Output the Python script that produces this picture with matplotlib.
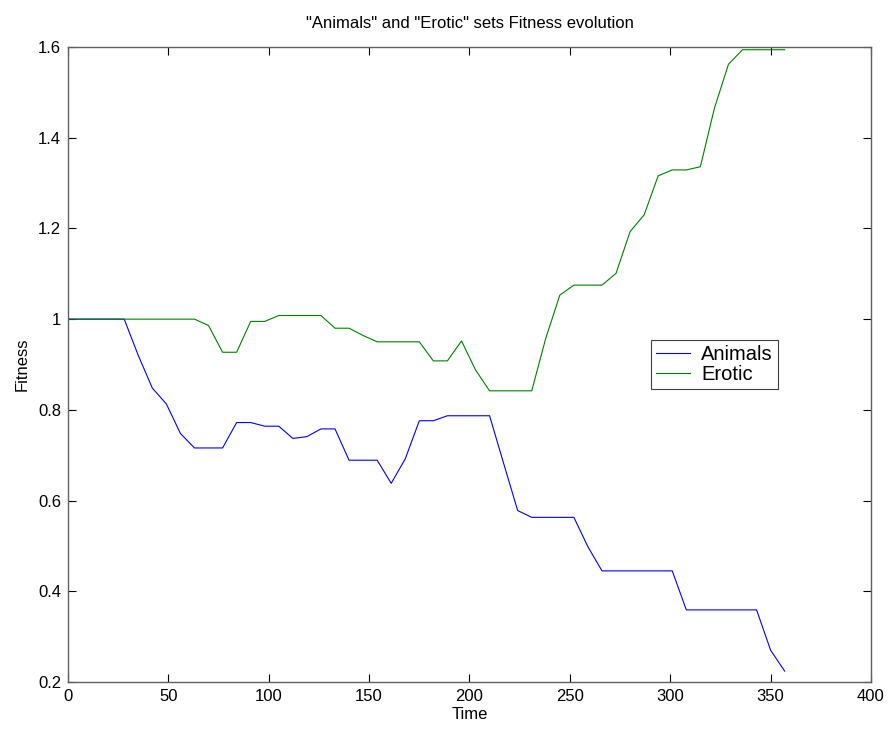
import matplotlib
matplotlib.use("Agg")
import matplotlib.pyplot as plt
from matplotlib.ticker import FuncFormatter

plt.rcParams['font.family'] = ['Liberation Sans', 'DejaVu Sans']
plt.rcParams['font.size'] = 12

# sampled every 7 time units
time = [7 * k for k in range(52)]

animals = [1.0, 1.0, 1.0, 1.0, 1.0, 0.92, 0.848, 0.813, 0.748, 0.716,
           0.716, 0.716, 0.772, 0.772, 0.764, 0.764, 0.737, 0.741, 0.758, 0.758,
           0.689, 0.689, 0.689, 0.638, 0.692, 0.776, 0.776, 0.787, 0.787, 0.787,
           0.787, 0.682, 0.578, 0.563, 0.563, 0.563, 0.563, 0.498, 0.445, 0.445,
           0.445, 0.445, 0.445, 0.445, 0.359, 0.359, 0.359, 0.359, 0.359, 0.359,
           0.27, 0.224]

erotic = [1.0, 1.0, 1.0, 1.0, 1.0, 1.0, 1.0, 1.0, 1.0, 1.0,
          0.986, 0.927, 0.927, 0.995, 0.995, 1.008, 1.008, 1.008, 1.008, 0.98,
          0.98, 0.964, 0.95, 0.95, 0.95, 0.95, 0.908, 0.908, 0.952, 0.888,
          0.842, 0.842, 0.842, 0.842, 0.958, 1.053, 1.075, 1.075, 1.075, 1.101,
          1.193, 1.23, 1.316, 1.329, 1.329, 1.336, 1.465, 1.562, 1.594, 1.594,
          1.594, 1.594]

fig = plt.figure(figsize=(8.89, 7.31), dpi=100)
ax = fig.add_axes([68 / 889, 49 / 731, 803 / 889, 635 / 731])

ax.plot(time, animals, color='#0000ff', lw=0.8, label='Animals')
ax.plot(time, erotic, color='#008000', lw=0.8, label='Erotic')

ax.set_xlim(0, 400)
ax.set_ylim(0.2, 1.6)
ax.set_xticks(range(0, 401, 50))
ax.set_yticks([0.2, 0.4, 0.6, 0.8, 1.0, 1.2, 1.4, 1.6])
ax.yaxis.set_major_formatter(FuncFormatter(lambda v, p: '%g' % round(v, 2)))
ax.tick_params(direction='in', top=True, right=True, length=6, width=0.8,
               colors='black', labelsize=12, pad=5)
for s in ax.spines.values():
    s.set_color('#606060')
    s.set_linewidth(1.0)

ax.set_title('"Animals" and "Erotic" sets Fitness evolution', fontsize=12, pad=14)
ax.set_xlabel('Time', labelpad=2)
ax.set_ylabel('Fitness', labelpad=6)

leg = ax.legend(loc='upper left', bbox_to_anchor=(0.726, 0.539), fancybox=False,
                framealpha=1, edgecolor='#404040', borderaxespad=0, fontsize=14.5,
                handlelength=1.7, handletextpad=0.55, borderpad=0.25,
                labelspacing=0.05)
leg.get_frame().set_linewidth(0.8)

fig.savefig('out.png', dpi=100)
